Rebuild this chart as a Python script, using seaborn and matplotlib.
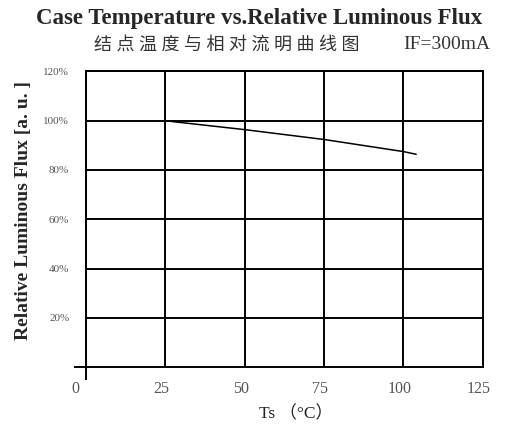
import numpy as np
import pandas as pd
import seaborn as sns
import matplotlib.pyplot as plt
import matplotlib.transforms as mtransforms

sns.set_theme(style="white")
plt.rcParams['font.family'] = ['Liberation Serif', 'Noto Sans CJK SC', 'DejaVu Sans']

temp = [27, 50, 75, 100, 104]
flux = [99.6, 96.3, 92.3, 87.4, 86.3]
xticks = [0, 25, 50, 75, 100, 125]
yticks = [20, 40, 60, 80, 100, 120]
ylabels = ["20%", "40%", "60%", "80%", "100%", "120%"]
df = pd.DataFrame({"temp": temp, "flux": flux})

fig = plt.figure(figsize=(5.12, 4.34), dpi=100)
ax = fig.add_axes([0.168, 0.154, 0.775, 0.682])
sns.lineplot(data=df, x="temp", y="flux", color="black", linewidth=1.1, ax=ax)

ax.set_xlim(0, 125)
ax.set_ylim(0, 120)
ax.set_xticks(xticks)
ax.set_yticks(yticks)
ax.set_yticklabels(ylabels)
ax.grid(True, color="black", linewidth=1.4)
for s in ax.spines.values():
    s.set_color("black")
    s.set_linewidth(1.4)
ax.tick_params(which="major", length=0, colors="#555555")
ax.tick_params(axis="x", labelsize=11.5, pad=10)
ax.tick_params(axis="y", labelsize=8, pad=12)
# the little cross at the origin
ax.xaxis.remove_overlapping_locs = False
ax.set_xticks([0], minor=True)
ax.set_yticks([0], minor=True)
ax.tick_params(which="minor", length=9, width=1.4, color="black",
               direction="out", bottom=True, left=True)

# tick labels sit a touch left of their grid lines in the original
shift = mtransforms.ScaledTranslation(-3 / 72, 0, fig.dpi_scale_trans)
for lab in ax.get_xticklabels():
    lab.set_transform(lab.get_transform() + shift)
first = ax.get_xticklabels()[0]
first.set_transform(first.get_transform() + mtransforms.ScaledTranslation(-5 / 72, 0, fig.dpi_scale_trans))

ax.set_xlabel("Ts （°C）", fontsize=12.5, color="#222222", labelpad=6)
ax.xaxis.label.set_x(0.53)
ax.set_ylabel("Relative Luminous Flux [a. u. ]", fontsize=14, fontweight="bold", labelpad=8)
ax.yaxis.label.set_y(0.53)

fig.text(0.506, 0.958, "Case Temperature vs.Relative Luminous Flux",
         ha="center", va="center", fontsize=16.5, fontweight="bold")
fig.text(0.442, 0.897, "结 点 温 度 与 相 对 流 明 曲 线 图",
         ha="center", va="center", fontsize=13, color="#333333")
fig.text(0.873, 0.897, "IF=300mA",
         ha="center", va="center", fontsize=14, color="#333333")

fig.savefig("out.png", dpi=100)
